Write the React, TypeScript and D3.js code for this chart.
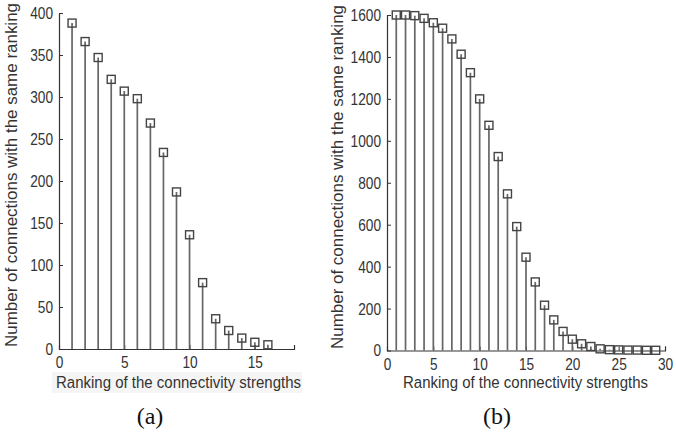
import React, { useEffect, useRef } from "react";
import * as d3 from "d3";

// panel (a): counts per ranking 1..16
const rankA = [1, 2, 3, 4, 5, 6, 7, 8, 9, 10, 11, 12, 13, 14, 15, 16];
const countA = [388, 366, 347, 321, 307, 298, 269, 234, 187, 136, 79, 36, 22, 13, 8, 5];
const xTicksA = [0, 5, 10, 15];
const yTicksA = [0, 50, 100, 150, 200, 250, 300, 350, 400];

// panel (b): counts per ranking 1..29
const rankB = [
  1, 2, 3, 4, 5, 6, 7, 8, 9, 10, 11, 12, 13, 14, 15, 16, 17, 18, 19, 20, 21, 22, 23, 24, 25, 26, 27, 28, 29,
];
const countB = [
  1600, 1600, 1597, 1584, 1563, 1537, 1486, 1413, 1325, 1200, 1074, 925, 747, 591, 445, 327, 216, 146, 91,
  54, 32, 19, 8, 4, 3, 2, 2, 1, 1,
];
const xTicksB = [0, 5, 10, 15, 20, 25, 30];
const yTicksB = [0, 200, 400, 600, 800, 1000, 1200, 1400, 1600];

const yTitle = "Number of connections with the same ranking";
const xTitle = "Ranking of the connectivity strengths";

const font = "'Liberation Sans', Arial, sans-serif";

const App = () => {
  const svgRef = useRef(null);

  useEffect(() => {
    const svg = d3.select(svgRef.current);
    svg.selectAll("*").remove();

    const panels = [
      {
        ranks: rankA, counts: countA, xTicks: xTicksA, yTicks: yTicksA,
        xDomain: [0, 18], yDomain: [0, 400],
        left: 59, right: 294, top: 13, bottom: 349,
        yTitleX: 11, yTitleY: 175, xTitleX: 56, tag: "(a)", tagX: 150, backdrop: "#f5f5f5",
      },
      {
        ranks: rankB, counts: countB, xTicks: xTicksB, yTicks: yTicksB,
        xDomain: [0, 30], yDomain: [0, 1600],
        left: 387, right: 665, top: 15, bottom: 350.5,
        yTitleX: 337, yTitleY: 177, xTitleX: 403, tag: "(b)", tagX: 497, backdrop: "none",
      },
    ];

    panels.forEach((p) => {
      const x = d3.scaleLinear().domain(p.xDomain).range([p.left, p.right]);
      const y = d3.scaleLinear().domain(p.yDomain).range([p.bottom, p.top]);
      const g = svg.append("g");

      const yAxis = g.append("g")
        .attr("transform", `translate(${p.left},0)`)
        .call(
          d3.axisLeft(y).tickValues(p.yTicks).tickFormat(d3.format("d"))
            .tickSizeInner(-4).tickSizeOuter(0).tickPadding(6)
        );
      const xAxis = g.append("g")
        .attr("transform", `translate(0,${p.bottom})`)
        .call(
          d3.axisBottom(x).tickValues(p.xTicks).tickFormat(d3.format("d"))
            .tickSizeInner(-4).tickSizeOuter(-4).tickPadding(7)
        );

      [yAxis, xAxis].forEach((ax) => {
        ax.select(".domain").attr("stroke", "#333").attr("stroke-width", 1.2);
        ax.selectAll(".tick line").attr("stroke", "#333");
        // narrow, tall digits like the original
        ax.selectAll(".tick text")
          .attr("fill", "#333")
          .attr("textLength", (d) => String(d).length * 7.6)
          .attr("lengthAdjust", "spacingAndGlyphs")
          .style("font-family", font)
          .style("font-size", "17px");
      });

      // stems
      g.selectAll("line.stem")
        .data(p.ranks)
        .enter()
        .append("line")
        .attr("class", "stem")
        .attr("x1", (d) => x(d))
        .attr("x2", (d) => x(d))
        .attr("y1", y(0))
        .attr("y2", (d, j) => y(p.counts[j]))
        .attr("stroke", "#666")
        .attr("stroke-width", 1.7);

      // square markers
      const s = 8;
      g.selectAll("rect.mk")
        .data(p.ranks)
        .enter()
        .append("rect")
        .attr("class", "mk")
        .attr("x", (d) => x(d) - s / 2)
        .attr("y", (d, j) => y(p.counts[j]) - s / 2)
        .attr("width", s)
        .attr("height", s)
        .attr("fill", "none")
        .attr("stroke", "#444")
        .attr("stroke-width", 1.4);

      // y title
      g.append("text")
        .attr("transform", `translate(${p.yTitleX},${p.yTitleY}) rotate(-90)`)
        .attr("text-anchor", "middle")
        .attr("dy", "0.35em")
        .attr("fill", "#333")
        .attr("textLength", 344)
        .attr("lengthAdjust", "spacingAndGlyphs")
        .style("font-family", font)
        .style("font-size", "17px")
        .text(yTitle);

      // x title with its faint backdrop
      g.append("rect")
        .attr("x", p.xTitleX - 4)
        .attr("y", 372)
        .attr("width", 250)
        .attr("height", 21)
        .attr("fill", p.backdrop);
      g.append("text")
        .attr("transform", `translate(${p.xTitleX},382) scale(1,1.14)`)
        .attr("dy", "0.35em")
        .attr("fill", "#333")
        .style("font-family", font)
        .style("font-size", "15px")
        .text(xTitle);

      g.append("text")
        .attr("x", p.tagX)
        .attr("y", 416)
        .attr("dy", "0.35em")
        .attr("text-anchor", "middle")
        .attr("fill", "#111")
        .style("font-family", "'Liberation Serif', 'Times New Roman', serif")
        .style("font-size", "24px")
        .text(p.tag);
    });
  }, []);

  return (
    <svg
      ref={svgRef}
      width={676}
      height={434}
      style={{ position: "absolute", left: 0, top: 0, background: "#fff" }}
    ></svg>
  );
};

export default App;
